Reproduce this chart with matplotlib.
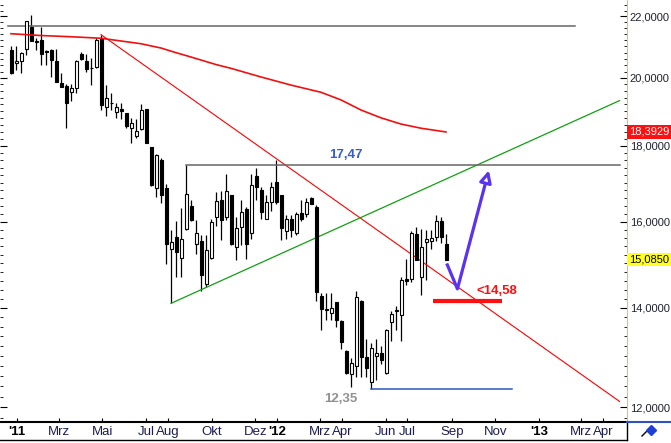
import numpy as np
import pandas as pd
import matplotlib
matplotlib.use("Agg")
import matplotlib.pyplot as plt
import matplotlib.dates as mdates
import matplotlib.ticker as mticker
from matplotlib.lines import Line2D

plt.rcParams['font.family'] = ['Liberation Sans', 'DejaVu Sans']

# weekly candles (Friday dates)
dates = pd.date_range('2010-12-24', periods=88, freq='7D')
opens = [20.89, 20.47, 20.52, 20.91, 21.66, 21.17, 21.22, 20.86, 20.89, 20.52,
         19.84, 19.75, 19.58, 19.69, 20.75, 20.54, 20.32, 20.34, 21.28, 19.11,
         19.23, 18.98, 19.05, 18.93, 18.51, 18.27, 18.47, 19.05, 17.96, 16.86,
         17.61, 16.87, 15.35, 15.63, 15.13, 15.82, 16.39, 15.45, 15.52, 14.54,
         15.13, 16.12, 16.56, 16.12, 16.67, 15.39, 15.88, 16.33, 15.72, 17.17,
         16.82, 16.08, 16.50, 17.02, 16.67, 15.77, 16.08, 15.72, 16.21, 16.19,
         16.59, 16.38, 14.27, 13.97, 13.90, 14.12, 13.71, 13.10, 12.63, 12.80,
         14.16, 12.98, 12.49, 13.00, 13.05, 12.65, 13.70, 13.94, 13.84, 14.65,
         14.65, 15.69, 14.69, 15.51, 15.53, 15.64, 16.03, 15.47]
highs = [21.00, 21.02, 20.83, 21.86, 22.06, 21.28, 21.66, 20.89, 20.92, 20.91,
         20.14, 19.81, 19.81, 20.57, 20.83, 20.77, 20.62, 21.28, 21.39, 19.79,
         19.55, 19.25, 19.23, 18.95, 18.79, 18.76, 19.21, 19.07, 17.98, 17.77,
         17.66, 16.96, 15.81, 16.01, 16.35, 17.47, 16.54, 16.05, 15.67, 15.67,
         16.08, 16.76, 16.78, 17.23, 16.67, 16.12, 16.56, 16.38, 17.24, 17.38,
         16.89, 16.67, 17.02, 17.61, 16.67, 16.17, 16.17, 16.25, 16.56, 16.59,
         16.63, 16.42, 14.32, 14.32, 14.32, 14.14, 13.73, 13.12, 12.96, 14.38,
         14.18, 13.35, 13.25, 13.35, 13.20, 13.55, 13.93, 14.05, 14.69, 15.11,
         15.78, 15.86, 15.82, 15.79, 15.79, 16.17, 16.11, 15.71]
lows = [20.12, 20.25, 20.14, 20.72, 21.17, 20.89, 20.40, 20.40, 20.02, 19.86,
        19.72, 18.50, 19.31, 19.53, 20.55, 20.20, 19.77, 20.32, 19.03, 18.86,
        19.03, 18.81, 18.78, 18.50, 18.07, 18.22, 18.45, 18.09, 16.92, 16.62,
        16.48, 14.99, 14.10, 14.69, 14.69, 15.79, 16.02, 15.22, 14.38, 14.46,
        15.10, 15.89, 15.55, 16.04, 15.43, 15.07, 15.43, 15.11, 15.59, 16.54,
        16.08, 16.06, 16.27, 16.46, 15.55, 15.57, 15.63, 15.67, 16.02, 16.12,
        16.46, 14.16, 13.52, 13.73, 13.73, 13.60, 13.14, 12.64, 12.38, 12.58,
        12.58, 12.57, 12.35, 12.51, 12.84, 12.64, 13.31, 13.52, 13.31, 14.50,
        14.58, 15.07, 14.29, 14.61, 15.33, 15.53, 15.49, 15.07]
closes = [20.16, 20.54, 20.79, 21.83, 21.19, 21.15, 20.77, 20.83, 20.55, 19.89,
          19.72, 19.23, 19.69, 20.52, 20.60, 20.28, 20.30, 21.22, 19.18, 19.38,
          19.25, 19.11, 19.01, 18.56, 18.64, 18.42, 19.03, 18.09, 16.95, 17.74,
          16.67, 15.47, 15.51, 15.27, 15.57, 16.71, 16.05, 15.73, 14.73, 15.31,
          16.00, 16.52, 16.04, 16.78, 15.47, 15.84, 16.25, 15.47, 16.94, 16.89,
          16.25, 16.50, 16.89, 16.50, 15.84, 16.06, 15.81, 16.19, 16.08, 16.50,
          16.46, 14.34, 13.98, 13.95, 13.99, 13.73, 13.27, 12.65, 12.85, 14.23,
          12.97, 12.76, 13.15, 13.05, 12.92, 13.53, 13.86, 13.96, 14.61, 14.60,
          15.73, 15.09, 15.39, 15.58, 15.60, 16.03, 15.64, 15.085]

# moving average read at some candles
ma_idx = [0, 6, 12, 18, 22, 26, 30, 33, 36, 41, 44, 50, 56, 62, 66, 70, 74, 78, 82, 87]
ma_vals = [21.42, 21.36, 21.32, 21.27, 21.18, 21.09, 20.95, 20.80, 20.66, 20.42,
           20.30, 20.03, 19.78, 19.56, 19.33, 19.03, 18.80, 18.62, 18.50, 18.3929]

# drawn lines
top_line = ('2010-12-20', '2013-02-20', 21.69)
red_trend = [('2011-04-29', 21.39), ('2013-04-24', 12.11)]
green_trend = [('2011-08-05', 14.10), ('2013-04-24', 19.31)]
resist = ('2011-08-26', '2013-04-24', 17.47)
support = ('2012-05-11', '2012-11-24', 12.35)
target = ('2012-08-06', '2012-11-11', 14.15)
arrow_pts = [('2012-08-25', 15.00), ('2012-09-09', 14.42), ('2012-10-23', 17.33)]

tick_dates = ['2011-01-01', '2011-03-01', '2011-05-01', '2011-07-01', '2011-08-01',
              '2011-10-01', '2011-12-01', '2012-01-01', '2012-03-01', '2012-04-01',
              '2012-06-01', '2012-07-01', '2012-09-01', '2012-11-01', '2013-01-01',
              '2013-03-01', '2013-04-01']
tick_labels = ["'11", 'Mrz', 'Mai', 'Jul', 'Aug', 'Okt', 'Dez', "'12", 'Mrz', 'Apr',
               'Jun', 'Jul', 'Sep', 'Nov', "'13", 'Mrz', 'Apr']

def dn(s):
    return mdates.date2num(pd.Timestamp(s))

fig = plt.figure(figsize=(6.71, 4.43), dpi=100)
ax = fig.add_axes([0, 21 / 443, 627 / 671, 422 / 443])

x = mdates.date2num(dates)
o = np.array(opens); h = np.array(highs); l = np.array(lows); c = np.array(closes)
lo = np.minimum(o, c); hi = np.maximum(o, c)
ax.vlines(x, l, h, color='black', lw=0.9, zorder=2)
ax.bar(x, hi - lo, bottom=lo, width=4.2, color=np.where(c >= o, 'white', 'black'),
       edgecolor='black', linewidth=0.8, zorder=3)

ax.plot(x[ma_idx], ma_vals, color='#f01010', lw=1.2, zorder=4)

ax.plot([dn(top_line[0]), dn(top_line[1])], [top_line[2]] * 2, color='#666666', lw=1.1)
ax.plot([dn(p[0]) for p in red_trend], [p[1] for p in red_trend], color='#ff0000', lw=0.8)
ax.plot([dn(p[0]) for p in green_trend], [p[1] for p in green_trend], color='#10a010', lw=0.9)
ax.plot([dn(resist[0]), dn(resist[1])], [resist[2]] * 2, color='#666666', lw=1.1)
ax.plot([dn(support[0]), dn(support[1])], [support[2]] * 2, color='#2e55c0', lw=1.1)
ax.plot([dn(target[0]), dn(target[1])], [target[2]] * 2, color='#ff1010', lw=3, solid_capstyle='butt', zorder=5)

ax_x = [dn(p[0]) for p in arrow_pts]
ax_y = [p[1] for p in arrow_pts]
ax.plot(ax_x[:2], ax_y[:2], color='#5a32f0', lw=2.3, solid_capstyle='butt', zorder=6)
ax.annotate('', xy=(ax_x[2], ax_y[2]), xytext=(ax_x[1], ax_y[1]),
            arrowprops=dict(arrowstyle='-|>,head_length=0.7,head_width=0.35',
                            color='#5a32f0', lw=2.3, fc='white', shrinkA=0, shrinkB=0),
            zorder=6)

ax.text(dn('2012-04-06'), 17.75, '17,47', color='#3a5ad0', fontsize=9.5,
        fontweight='bold', ha='center', va='center')
ax.text(dn('2012-10-06'), 14.37, '<14,58', color='#ff1010', fontsize=9.5,
        fontweight='bold', ha='left', va='center')
ax.text(dn('2012-03-30'), 12.16, '12,35', color='#909090', fontsize=9.5,
        fontweight='bold', ha='center', va='center')

ax.set_yscale('log')
ax.set_ylim(11.73, 22.57)
left = dn('2011-01-01') - 23.4
ax.set_xlim(left, left + 877.8)

ax.yaxis.set_major_locator(mticker.FixedLocator([12, 14, 16, 18, 20, 22]))
ax.yaxis.set_minor_locator(mticker.FixedLocator(np.arange(11.8, 22.61, 0.2)))
ax.yaxis.set_major_formatter(mticker.FuncFormatter(lambda v, _: f"{v:.4f}".replace('.', ',')))
ax.yaxis.set_minor_formatter(mticker.NullFormatter())
ax.tick_params(axis='y', which='both', left=True, right=True, labelleft=False,
               labelright=True, direction='in', labelsize=8, labelcolor='#202030', pad=2)
ax.tick_params(axis='y', which='major', length=5)
ax.tick_params(axis='y', which='minor', length=2.5)

ax.set_xticks([dn(t) for t in tick_dates])
ax.set_xticklabels(tick_labels)
ax.xaxis.set_minor_locator(mticker.NullLocator())
ax.tick_params(axis='x', direction='in', length=3, labelsize=9.5, labelcolor='#1c1c50', pad=3)
for lab in ax.get_xticklabels():
    if lab.get_text().startswith("'"):
        lab.set_fontweight('bold')
        lab.set_color('black')

for s in ['top', 'left']:
    ax.spines[s].set_visible(False)
ax.spines['right'].set_color('#f0c040')
ax.spines['bottom'].set_linewidth(1.5)

yt = ax.get_yaxis_transform()
ax.text(1.003, 18.3929, '18,3929', transform=yt, ha='left', va='center', color='white',
        fontsize=8, bbox=dict(boxstyle='square,pad=0.15', fc='#ff1010', ec='none'), clip_on=False)
ax.text(1.003, 15.085, '15,0850', transform=yt, ha='left', va='center', color='black',
        fontsize=8, bbox=dict(boxstyle='square,pad=0.15', fc='#ffff20', ec='none'), clip_on=False)

# bottom bar frame and corner icon
fig.add_artist(Line2D([0, 627 / 671], [3 / 443, 3 / 443], color='black', lw=1))
fig.add_artist(Line2D([627 / 671, 627 / 671], [3 / 443, 21 / 443], color='black', lw=1))
fig.add_artist(Line2D([627 / 671, 1], [21 / 443, 21 / 443], color='#3050c0', lw=1.5))
fig.add_artist(Line2D([642 / 671, 649 / 671], [7 / 443, 14 / 443], color='black', lw=1))
fig.add_artist(Line2D([651 / 671], [13 / 443], marker='D', color='#2040d0', ms=5))

fig.savefig('out.png', dpi=100)
